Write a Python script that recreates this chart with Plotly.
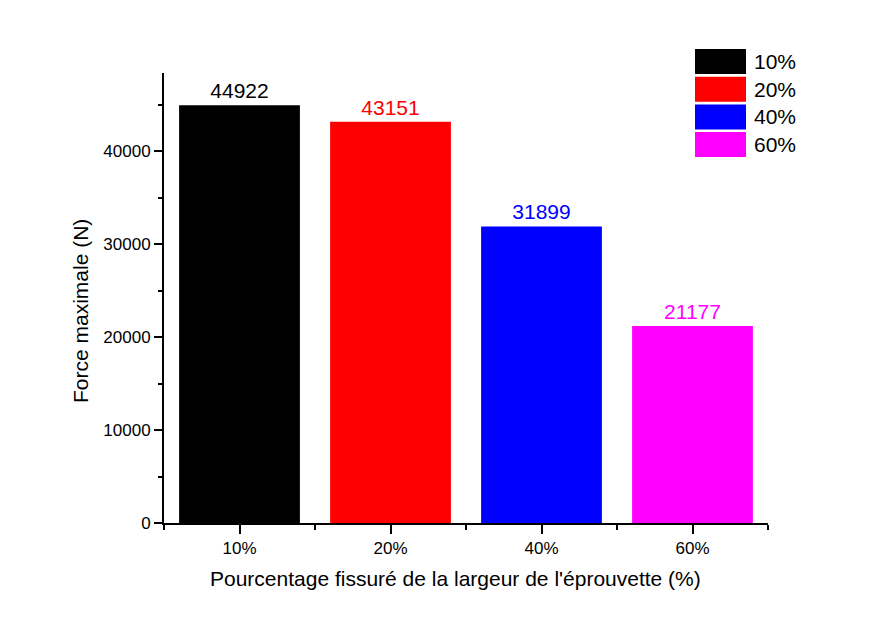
import plotly.graph_objects as go

# Maximum force per cracked-width percentage
categories = ["10%", "20%", "40%", "60%"]
forces = [44922, 43151, 31899, 21177]
colors = ["#000000", "#ff0000", "#0000ff", "#ff00ff"]
y_ticks = [0, 10000, 20000, 30000, 40000]

FONT = "Liberation Sans, Arial, sans-serif"
W, H = 876, 619
ML, MR, MT, MB = 164, 108, 73, 96
PW, PH = W - ML - MR, H - MT - MB

xs = list(range(len(categories)))


def px_to_paper_x(px):
    return (px - ML) / PW


def px_to_paper_y(py):
    return (H - MB - py) / PH


fig = go.Figure()
fig.add_trace(go.Bar(
    x=xs,
    y=forces,
    width=0.8,
    marker=dict(color=colors, line=dict(width=0)),
    text=[str(v) for v in forces],
    textposition="outside",
    textfont=dict(family=FONT, size=21, color=colors),
    cliponaxis=False,
    showlegend=False,
))

# Legend drawn as wide colour swatches with labels
box_x0, box_x1 = 695, 746
top0, pitch, box_h = 49, 27.7, 25
for i, (lab, col) in enumerate(zip(categories, colors)):
    y0 = top0 + i * pitch
    fig.add_shape(
        type="rect", xref="paper", yref="paper",
        x0=px_to_paper_x(box_x0), x1=px_to_paper_x(box_x1),
        y0=px_to_paper_y(y0 + box_h), y1=px_to_paper_y(y0),
        fillcolor=col, line=dict(width=0),
    )
    fig.add_annotation(
        xref="paper", yref="paper",
        x=px_to_paper_x(752), y=px_to_paper_y(y0 + box_h / 2),
        xanchor="left", yanchor="middle",
        text=lab, showarrow=False,
        font=dict(family=FONT, size=21, color="black"),
    )

# Axis titles
fig.add_annotation(
    xref="paper", yref="paper",
    x=px_to_paper_x(455), y=px_to_paper_y(578),
    xanchor="center", yanchor="middle", showarrow=False,
    text="Pourcentage fissuré de la largeur de l'éprouvette (%)",
    font=dict(family=FONT, size=21, color="black"),
)
fig.add_annotation(
    xref="paper", yref="paper",
    x=px_to_paper_x(80), y=px_to_paper_y(311),
    xanchor="center", yanchor="middle", showarrow=False,
    textangle=-90,
    text="Force maximale (N)",
    font=dict(family=FONT, size=21, color="black"),
)

fig.update_layout(
    width=W, height=H,
    margin=dict(l=ML, r=MR, t=MT, b=MB),
    paper_bgcolor="white",
    plot_bgcolor="white",
    font=dict(family=FONT, color="black"),
    bargap=0.2,
)

fig.update_xaxes(
    range=[-0.5, 3.5],
    tickmode="array", tickvals=xs, ticktext=categories,
    tickfont=dict(size=17),
    ticks="outside", ticklen=9, tickwidth=1.5, tickcolor="black",
    minor=dict(tickmode="linear", tick0=-0.5, dtick=1, ticks="outside",
               ticklen=5, tickwidth=1.5, tickcolor="black"),
    showline=True, linecolor="black", linewidth=2,
    showgrid=False, zeroline=False,
)

fig.update_yaxes(
    range=[0, 48400],
    tickmode="array", tickvals=y_ticks, ticktext=[str(v) for v in y_ticks],
    tickfont=dict(size=17),
    ticks="outside", ticklen=8, tickwidth=1.5, tickcolor="black",
    minor=dict(tickmode="linear", tick0=0, dtick=5000, ticks="outside",
               ticklen=4, tickwidth=1.5, tickcolor="black"),
    showline=True, linecolor="black", linewidth=2,
    showgrid=False, zeroline=False,
)

fig.write_html("out.html")
